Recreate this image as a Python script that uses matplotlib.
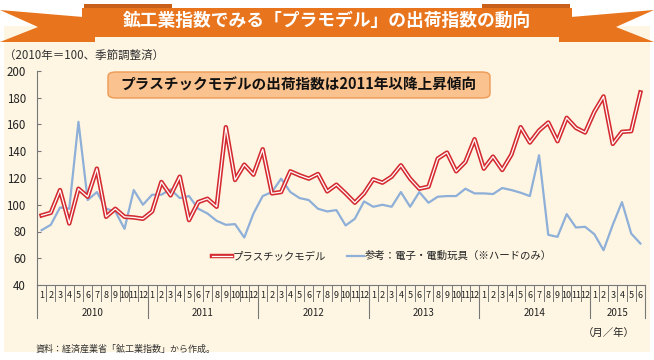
import matplotlib
matplotlib.use("Agg")
import matplotlib.pyplot as plt
from matplotlib.patches import Polygon, FancyBboxPatch, Rectangle
from matplotlib.lines import Line2D

plt.rcParams['font.family'] = ['Noto Sans CJK JP', 'DejaVu Sans']

years = ["2010", "2011", "2012", "2013", "2014", "2015"]
months_per_year = [12, 12, 12, 12, 12, 6]

plamodel = [92, 94, 111, 86, 112, 106, 127, 91, 97, 91, 90.5, 89.5,
            95, 117, 107, 121, 88.5, 102, 104.5, 98.5, 158, 118.5, 130, 122.5,
            141.5, 108.5, 109.5, 125, 122, 119.5, 123, 110, 115, 108.5, 101.5, 108.5,
            119, 116.5, 121, 129.5, 119.5, 112, 113.5, 134.5, 139, 125, 132, 149,
            127, 136, 126, 137.5, 158, 146.5, 155.5, 161.5, 147.5, 165, 157.5, 154,
            169.5, 181, 145.5, 154.5, 155, 184]
toys = [81, 85, 98, 97, 162, 103.5, 109.5, 97, 95, 82, 111, 100,
        107.5, 107.5, 111.5, 105, 106.5, 97, 93.5, 88, 85, 85.5, 75.5, 93.5,
        106.5, 109.5, 119.5, 109.5, 105, 103.5, 97, 95, 96, 84.5, 89.5, 102.5,
        98.5, 100, 98.5, 109.5, 98.5, 109.5, 101.5, 106, 106.5, 106.5, 112, 108.5,
        108.5, 108, 112.5, 111, 109, 106.5, 137, 77.5, 76, 93, 83, 83.5,
        78, 66, 85, 102, 78.5, 71]
yticks = [40, 60, 80, 100, 120, 140, 160, 180, 200]

W, H = 654, 360
fig = plt.figure(figsize=(W / 100, H / 100), dpi=100)
fig.patch.set_facecolor('white')

def fx(x):
    return x / W

def fy(y):
    return 1 - y / H

# cream panel
fig.patches.append(Rectangle((fx(4), fy(352)), fx(646), (352 - 26) / H,
                             transform=fig.transFigure, facecolor='#FEF6E3', edgecolor='none', zorder=-5))

# banner
orange = '#E8751E'
dark = '#C9601A'
def poly(pts, color, z=1):
    fig.patches.append(Polygon([(fx(x), fy(y)) for x, y in pts], closed=True,
                               transform=fig.transFigure, facecolor=color, edgecolor='none', zorder=z))
poly([(0, 10), (95, 18), (95, 42), (0, 42), (38, 27)], orange)
poly([(654, 10), (559, 18), (559, 42), (654, 42), (616, 27)], orange)
poly([(84, 4), (172, 4), (172, 9), (84, 9)], dark)
poly([(570, 4), (482, 4), (482, 9), (570, 9)], dark)
poly([(82, 8), (572, 8), (572, 37), (82, 37)], orange, 2)
fig.text(fx(327), fy(21), "鉱工業指数でみる「プラモデル」の出荷指数の動向", color='white',
         fontsize=12.8, fontweight='bold', ha='center', va='center', zorder=5)

fig.text(fx(4), fy(55), "（2010年＝100、季節調整済）", fontsize=8.3, ha='left', va='center', color='#333333')

# axes
x0, x1, ytop, ybot = 37, 645, 71, 285
ax = fig.add_axes([fx(x0), fy(ybot), (x1 - x0) / W, (ybot - ytop) / H])
ax.set_zorder(3)
ax.patch.set_alpha(0)
n = len(plamodel)
xs = [i + 0.5 for i in range(n)]
ax.plot(xs, toys, color='#8EAFD8', lw=1.6, zorder=3, solid_joinstyle='round')
ax.plot(xs, plamodel, color='#D42A30', lw=3.2, zorder=4, solid_joinstyle='round')
ax.plot(xs, plamodel, color='white', lw=0.9, zorder=5, solid_joinstyle='round')
ax.set_xlim(0, n)
ax.set_ylim(40, 200)
ax.set_yticks(yticks)
ax.set_yticklabels([str(v) for v in yticks], fontsize=8.3, color='#222222')
ax.tick_params(axis='y', direction='in', length=3, width=0.8, color='#777777', pad=8)
ax.set_xticks([])
for s in ['top', 'right']:
    ax.spines[s].set_visible(False)
for s in ['left', 'bottom']:
    ax.spines[s].set_color('#777777')
    ax.spines[s].set_linewidth(0.8)

tr = ax.get_xaxis_transform()
ph = ybot - ytop
k = 0
for yi, (yr, nm) in enumerate(zip(years, months_per_year)):
    ax.add_line(Line2D([k, k], [0, -33 / ph], transform=tr, color='#777777', lw=0.8, clip_on=False))
    for m in range(nm):
        ax.text(k + m + 0.5, -10 / ph, str(m + 1), transform=tr, fontsize=6.5,
                ha='center', va='center', color='#222222')
        if m > 0:
            ax.add_line(Line2D([k + m, k + m], [0, -16 / ph], transform=tr, color='#777777',
                               lw=0.7, clip_on=False))
    ax.text(k + nm / 2, -28 / ph, yr, transform=tr, fontsize=7, ha='center', va='center', color='#222222')
    k += nm
ax.add_line(Line2D([k, k], [0, -33 / ph], transform=tr, color='#777777', lw=0.8, clip_on=False))

# annotation box
box = FancyBboxPatch((fx(108), fy(98)), fx(382), (98 - 72) / H,
                     boxstyle="round,pad=0,rounding_size=0.012", transform=fig.transFigure,
                     facecolor='#F9C28E', edgecolor='#EE9A55', lw=1.0, zorder=6)
fig.patches.append(box)
fig.text(fx(299), fy(85), "プラスチックモデルの出荷指数は2011年以降上昇傾向", fontsize=10.5,
         fontweight='bold', ha='center', va='center', zorder=7, color='#111111')

# legend
ly = fy(256)
fig.add_artist(Line2D([fx(212), fx(232)], [ly, ly], transform=fig.transFigure, color='#D42A30', lw=3.2))
fig.add_artist(Line2D([fx(212), fx(232)], [ly, ly], transform=fig.transFigure, color='white', lw=0.9))
fig.text(fx(233), ly, "プラスチックモデル", fontsize=7.5, ha='left', va='center', color='#222222')
fig.add_artist(Line2D([fx(347), fx(364)], [ly, ly], transform=fig.transFigure, color='#8EAFD8', lw=1.6))
fig.text(fx(365), ly, "参考：電子・電動玩具（※ハードのみ）", fontsize=7.5, ha='left', va='center', color='#222222')

fig.text(fx(583), fy(333), "（月／年）", fontsize=7.5, ha='left', va='center', color='#222222')
fig.text(fx(36), fy(349), "資料：経済産業省「鉱工業指数」から作成。", fontsize=6.5, ha='left', va='center', color='#333333')

fig.savefig("out.png", dpi=100, facecolor=fig.get_facecolor())
